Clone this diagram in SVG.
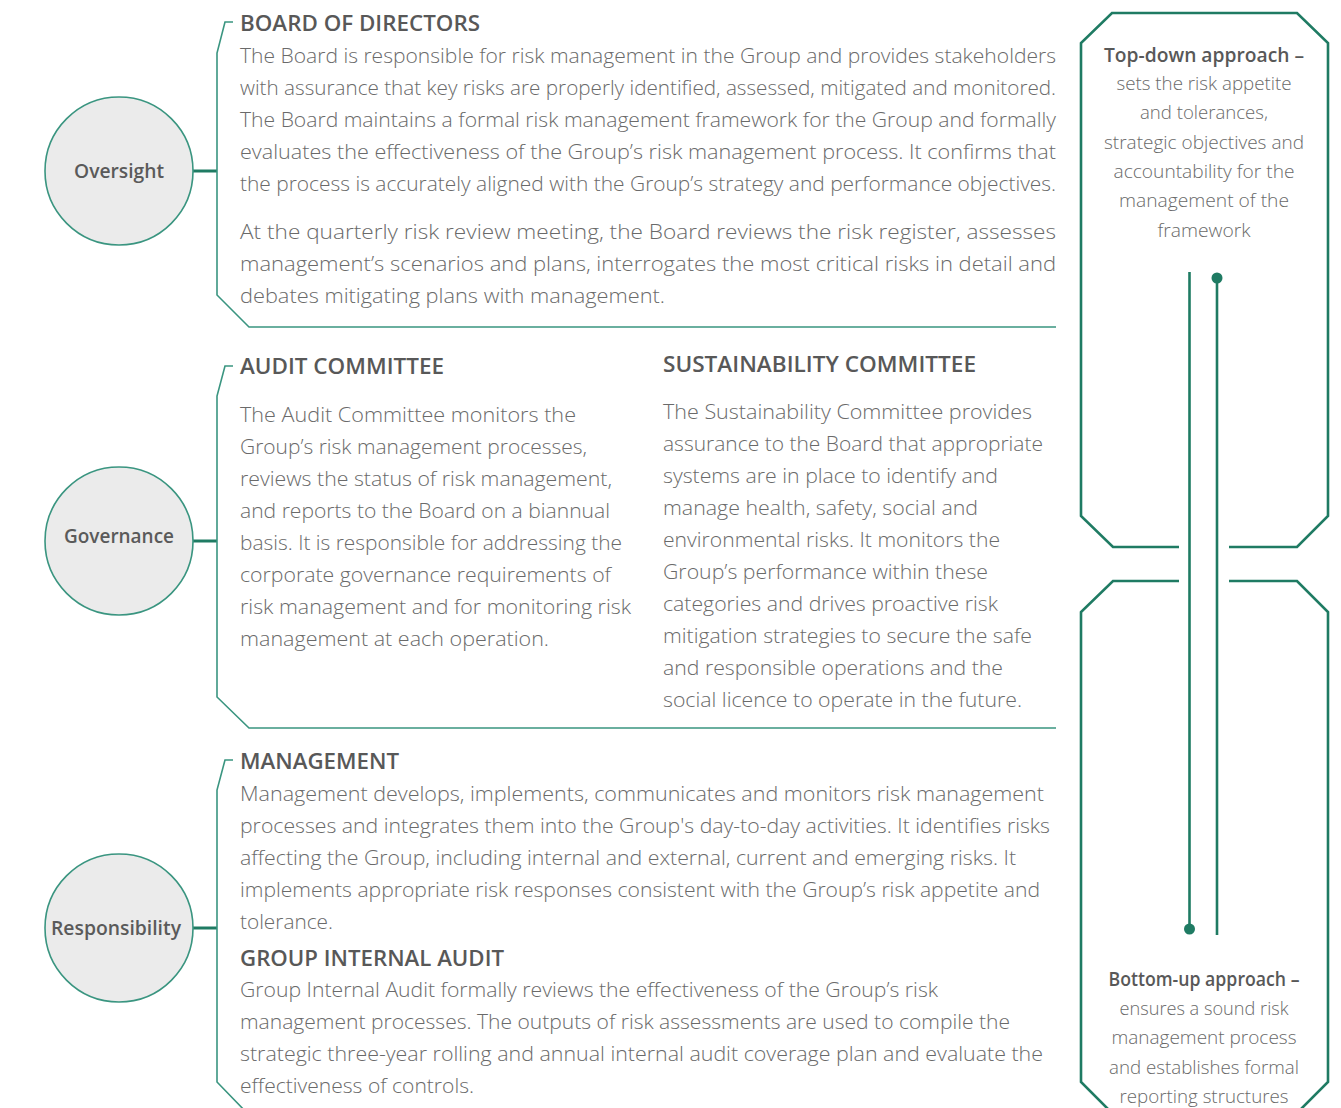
<svg xmlns="http://www.w3.org/2000/svg" width="1341" height="1108" viewBox="0 0 1341 1108">
  <defs>
    <style>
      .b { font-family: "Open Sans", "Noto Sans", "Liberation Sans", sans-serif; font-size: 21px; font-weight: 300; fill: #6a6a6a; }
      .h { font-family: "Open Sans", "Noto Sans", "Liberation Sans", sans-serif; font-size: 21.5px; font-weight: 600; fill: #585858; }
      .c { font-family: "Open Sans", "Noto Sans", "Liberation Sans", sans-serif; font-size: 19px; font-weight: 600; fill: #5a5a5a; text-anchor: middle; }
      .r { font-family: "Open Sans", "Noto Sans", "Liberation Sans", sans-serif; font-size: 19px; font-weight: 300; fill: #6a6a6a; text-anchor: middle; }
      .rb { font-family: "Open Sans", "Noto Sans", "Liberation Sans", sans-serif; font-size: 19px; font-weight: 600; fill: #585858; text-anchor: middle; }
      .node { fill: #ebebeb; stroke: #3a9580; stroke-width: 1.6; }
      .link { stroke: #1f7b63; stroke-width: 3; fill: none; }
      .bracket { stroke: #3a9580; stroke-width: 1.6; fill: none; }
      .frame { stroke: #1f7b63; stroke-width: 2.6; fill: none; }
      .dot { fill: #1f7b63; }
    </style>
  </defs>
  <rect width="1341" height="1108" fill="#ffffff"/>

  <!-- connectors: circle to bracket ties, section brackets -->
  <g id="connectors">
    <line class="link" x1="193" y1="171" x2="217" y2="171"/>
    <line class="link" x1="193" y1="541" x2="217" y2="541"/>
    <line class="link" x1="193" y1="928" x2="217" y2="928"/>
    <path class="bracket" d="M233,22 H225 L217,53 V295 L249,327 H1056"/>
    <path class="bracket" d="M233,366 H225 L217,396 V697 L249,728 H1056"/>
    <path class="bracket" d="M233,760 H225 L217,790 V1082 L248,1114"/>
  </g>

  <!-- level circles -->
  <g id="node-oversight">
    <circle class="node" cx="119" cy="171" r="74"/>
    <text class="c" x="119" y="178" textLength="90" lengthAdjust="spacingAndGlyphs">Oversight</text>
  </g>
  <g id="node-governance">
    <circle class="node" cx="119" cy="541" r="74"/>
    <text class="c" x="119" y="543" textLength="110" lengthAdjust="spacingAndGlyphs">Governance</text>
  </g>
  <g id="node-responsibility">
    <circle class="node" cx="119" cy="928" r="74"/>
    <text class="c" x="116" y="935" textLength="130" lengthAdjust="spacingAndGlyphs">Responsibility</text>
  </g>

  <!-- Board of Directors -->
  <g id="node-board">
    <text class="h" x="240" y="31" textLength="240" lengthAdjust="spacingAndGlyphs">BOARD OF DIRECTORS</text>
    <text class="b" x="240" y="63" textLength="816" lengthAdjust="spacingAndGlyphs">The Board is responsible for risk management in the Group and provides stakeholders</text>
    <text class="b" x="240" y="95" textLength="816" lengthAdjust="spacingAndGlyphs">with assurance that key risks are properly identified, assessed, mitigated and monitored.</text>
    <text class="b" x="240" y="127" textLength="816" lengthAdjust="spacingAndGlyphs">The Board maintains a formal risk management framework for the Group and formally</text>
    <text class="b" x="240" y="159" textLength="816" lengthAdjust="spacingAndGlyphs">evaluates the effectiveness of the Group’s risk management process. It confirms that</text>
    <text class="b" x="240" y="191" textLength="816" lengthAdjust="spacingAndGlyphs">the process is accurately aligned with the Group’s strategy and performance objectives.</text>
    <text class="b" x="240" y="239" textLength="816" lengthAdjust="spacingAndGlyphs">At the quarterly risk review meeting, the Board reviews the risk register, assesses</text>
    <text class="b" x="240" y="271" textLength="816" lengthAdjust="spacingAndGlyphs">management’s scenarios and plans, interrogates the most critical risks in detail and</text>
    <text class="b" x="240" y="303" textLength="425" lengthAdjust="spacingAndGlyphs">debates mitigating plans with management.</text>
  </g>

  <!-- Audit Committee -->
  <g id="node-audit">
    <text class="h" x="240" y="374" textLength="204" lengthAdjust="spacingAndGlyphs">AUDIT COMMITTEE</text>
    <text class="b" x="240" y="422" textLength="336" lengthAdjust="spacingAndGlyphs">The Audit Committee monitors the</text>
    <text class="b" x="240" y="454" textLength="347" lengthAdjust="spacingAndGlyphs">Group’s risk management processes,</text>
    <text class="b" x="240" y="486" textLength="372" lengthAdjust="spacingAndGlyphs">reviews the status of risk management,</text>
    <text class="b" x="240" y="518" textLength="370" lengthAdjust="spacingAndGlyphs">and reports to the Board on a biannual</text>
    <text class="b" x="240" y="550" textLength="382" lengthAdjust="spacingAndGlyphs">basis. It is responsible for addressing the</text>
    <text class="b" x="240" y="582" textLength="371" lengthAdjust="spacingAndGlyphs">corporate governance requirements of</text>
    <text class="b" x="240" y="614" textLength="391" lengthAdjust="spacingAndGlyphs">risk management and for monitoring risk</text>
    <text class="b" x="240" y="646" textLength="309" lengthAdjust="spacingAndGlyphs">management at each operation.</text>
  </g>

  <!-- Sustainability Committee -->
  <g id="node-sustainability">
    <text class="h" x="663" y="372" textLength="313" lengthAdjust="spacingAndGlyphs">SUSTAINABILITY COMMITTEE</text>
    <text class="b" x="663" y="419" textLength="369" lengthAdjust="spacingAndGlyphs">The Sustainability Committee provides</text>
    <text class="b" x="663" y="451" textLength="380" lengthAdjust="spacingAndGlyphs">assurance to the Board that appropriate</text>
    <text class="b" x="663" y="483" textLength="335" lengthAdjust="spacingAndGlyphs">systems are in place to identify and</text>
    <text class="b" x="663" y="515" textLength="315" lengthAdjust="spacingAndGlyphs">manage health, safety, social and</text>
    <text class="b" x="663" y="547" textLength="337" lengthAdjust="spacingAndGlyphs">environmental risks. It monitors the</text>
    <text class="b" x="663" y="579" textLength="325" lengthAdjust="spacingAndGlyphs">Group’s performance within these</text>
    <text class="b" x="663" y="611" textLength="335" lengthAdjust="spacingAndGlyphs">categories and drives proactive risk</text>
    <text class="b" x="663" y="643" textLength="369" lengthAdjust="spacingAndGlyphs">mitigation strategies to secure the safe</text>
    <text class="b" x="663" y="675" textLength="340" lengthAdjust="spacingAndGlyphs">and responsible operations and the</text>
    <text class="b" x="663" y="707" textLength="359" lengthAdjust="spacingAndGlyphs">social licence to operate in the future.</text>
  </g>

  <!-- Management -->
  <g id="node-management">
    <text class="h" x="240" y="769" textLength="159" lengthAdjust="spacingAndGlyphs">MANAGEMENT</text>
    <text class="b" x="240" y="801" textLength="804" lengthAdjust="spacingAndGlyphs">Management develops, implements, communicates and monitors risk management</text>
    <text class="b" x="240" y="833" textLength="810" lengthAdjust="spacingAndGlyphs">processes and integrates them into the Group's day-to-day activities. It identifies risks</text>
    <text class="b" x="240" y="865" textLength="776" lengthAdjust="spacingAndGlyphs">affecting the Group, including internal and external, current and emerging risks. It</text>
    <text class="b" x="240" y="897" textLength="800" lengthAdjust="spacingAndGlyphs">implements appropriate risk responses consistent with the Group’s risk appetite and</text>
    <text class="b" x="240" y="929" textLength="93" lengthAdjust="spacingAndGlyphs">tolerance.</text>
  </g>

  <!-- Group Internal Audit -->
  <g id="node-internal-audit">
    <text class="h" x="240" y="966" textLength="264" lengthAdjust="spacingAndGlyphs">GROUP INTERNAL AUDIT</text>
    <text class="b" x="240" y="997" textLength="698" lengthAdjust="spacingAndGlyphs">Group Internal Audit formally reviews the effectiveness of the Group’s risk</text>
    <text class="b" x="240" y="1029" textLength="770" lengthAdjust="spacingAndGlyphs">management processes. The outputs of risk assessments are used to compile the</text>
    <text class="b" x="240" y="1061" textLength="803" lengthAdjust="spacingAndGlyphs">strategic three-year rolling and annual internal audit coverage plan and evaluate the</text>
    <text class="b" x="240" y="1093" textLength="234" lengthAdjust="spacingAndGlyphs">effectiveness of controls.</text>
  </g>

  <!-- Top-down panel -->
  <g id="node-top-down">
    <path class="frame" d="M1179,547 H1113 L1081,516 V43 L1112,13 H1297 L1328,43 V516 L1297,547 H1229"/>
    <text class="rb" x="1204" y="62" textLength="200" lengthAdjust="spacingAndGlyphs">Top-down approach –</text>
    <text class="r" x="1204" y="90" textLength="175" lengthAdjust="spacingAndGlyphs">sets the risk appetite</text>
    <text class="r" x="1204" y="119" textLength="128" lengthAdjust="spacingAndGlyphs">and tolerances,</text>
    <text class="r" x="1204" y="149" textLength="200" lengthAdjust="spacingAndGlyphs">strategic objectives and</text>
    <text class="r" x="1204" y="178" textLength="181" lengthAdjust="spacingAndGlyphs">accountability for the</text>
    <text class="r" x="1204" y="207" textLength="170" lengthAdjust="spacingAndGlyphs">management of the</text>
    <text class="r" x="1204" y="237" textLength="93" lengthAdjust="spacingAndGlyphs">framework</text>
  </g>

  <!-- Bottom-up panel -->
  <g id="node-bottom-up">
    <path class="frame" d="M1179,581 H1113 L1081,612 V1082 L1113,1114"/>
    <path class="frame" d="M1229,581 H1297 L1328,612 V1082 L1296,1114"/>
    <text class="rb" x="1204" y="986" textLength="191" lengthAdjust="spacingAndGlyphs">Bottom-up approach –</text>
    <text class="r" x="1204" y="1015" textLength="169" lengthAdjust="spacingAndGlyphs">ensures a sound risk</text>
    <text class="r" x="1204" y="1044" textLength="185" lengthAdjust="spacingAndGlyphs">management process</text>
    <text class="r" x="1204" y="1074" textLength="190" lengthAdjust="spacingAndGlyphs">and establishes formal</text>
    <text class="r" x="1204" y="1103" textLength="169" lengthAdjust="spacingAndGlyphs">reporting structures</text>
  </g>

  <!-- flow lines between the two panels -->
  <g id="flow-lines">
    <line class="frame" x1="1189.5" y1="272" x2="1189.5" y2="929"/>
    <circle class="dot" cx="1189.5" cy="929" r="5.5"/>
    <line class="frame" x1="1217" y1="278" x2="1217" y2="935"/>
    <circle class="dot" cx="1217" cy="278" r="5.5"/>
  </g>
</svg>
